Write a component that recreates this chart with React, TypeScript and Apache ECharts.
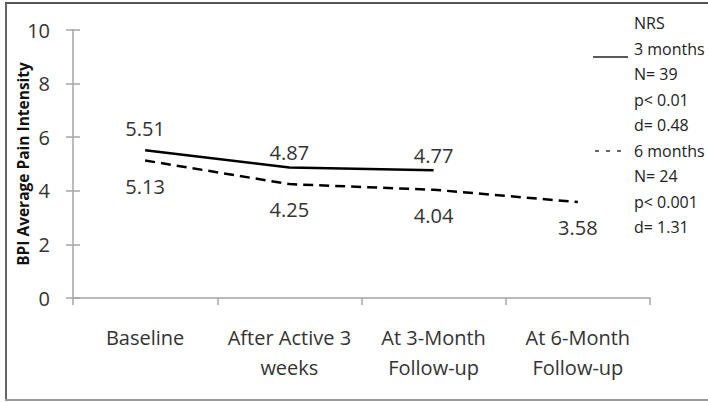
import React, { useEffect, useRef } from "react";
import * as echarts from "echarts";

const categories = ["Baseline", "After Active 3\nweeks", "At 3-Month\nFollow-up", "At 6-Month\nFollow-up"];
const threeMonths = [5.51, 4.87, 4.77, null];
const sixMonths = [5.13, 4.25, 4.04, 3.58];
const yTicks = { min: 0, max: 10, interval: 2 };
const yAxisName = "BPI Average Pain Intensity";
const legendLines = ["NRS", "3 months", "N= 39", "p< 0.01", "d= 0.48", "6 months", "N= 24", "p< 0.001", "d= 1.31"];

const FONT = "'Open Sans', Lato, sans-serif";

export default function App() {
  const ref = useRef<HTMLDivElement>(null);
  useEffect(() => {
    if (!ref.current) return;
    const chart = echarts.init(ref.current, undefined, { renderer: "svg" });
    const legendTexts: any[] = legendLines.map((t, i) => ({
      type: "text",
      x: 634,
      y: 23 + 25.5 * i,
      style: {
        text: t,
        font: `16px ${FONT}`,
        fill: "#222",
        verticalAlign: "middle",
      },
    }));
    chart.setOption({
      animation: false,
      textStyle: { fontFamily: FONT },
      grid: { left: 73, right: 58, top: 30, bottom: 104, containLabel: false, outerBoundsMode: "none" },
      xAxis: {
        type: "category",
        data: categories,
        boundaryGap: true,
        axisLine: { lineStyle: { color: "#a6a6a6", width: 1.5 } },
        axisTick: { show: true, length: 7, lineStyle: { color: "#a6a6a6", width: 1.5 } },
        axisLabel: { interval: 0, color: "#333", fontSize: 20, margin: 24, lineHeight: 30, fontFamily: FONT },
      },
      yAxis: [
        {
          type: "value",
          min: yTicks.min,
          max: yTicks.max,
          interval: yTicks.interval,
          position: "left",
          name: yAxisName,
          nameLocation: "middle",
          nameGap: 42,
          nameMoveOverlap: false,
          nameRotate: 90,
          nameTextStyle: { fontSize: 15.5, fontWeight: "bold", color: "#111", fontFamily: FONT },
          axisLine: { show: true, lineStyle: { color: "#a6a6a6", width: 1.5 } },
          axisTick: { show: true, length: 7, lineStyle: { color: "#a6a6a6", width: 1.5 } },
          axisLabel: { color: "#333", fontSize: 20, margin: 23, fontFamily: FONT },
          splitLine: { show: false },
        },
        {
          type: "value",
          min: yTicks.min,
          max: yTicks.max,
          interval: yTicks.interval,
          position: "left",
          offset: 0,
          axisLine: { show: false },
          axisTick: { show: true, inside: true, length: 7, lineStyle: { color: "#a6a6a6", width: 1.5 } },
          axisLabel: { show: false },
          splitLine: { show: false },
        },
      ],
      series: [
        {
          name: "3 months",
          type: "line",
          yAxisIndex: 0,
          data: threeMonths.map((v, i) => ({
            value: v,
            label: { distance: i === 0 ? 11 : 4 },
          })),
          symbol: "circle",
          symbolSize: 1,
          showSymbol: true,
          itemStyle: { color: "rgba(0,0,0,0)" },
          connectNulls: false,
          lineStyle: { color: "#000", width: 2.5, type: "solid" },
          label: {
            show: true,
            position: "top",
            fontSize: 20,
            color: "#333",
            fontFamily: FONT,
            formatter: (p: any) => (p.value == null ? "" : Number(p.value).toFixed(2)),
          },
        },
        {
          name: "6 months",
          type: "line",
          yAxisIndex: 0,
          data: sixMonths,
          symbol: "circle",
          symbolSize: 1,
          showSymbol: true,
          itemStyle: { color: "rgba(0,0,0,0)" },
          lineStyle: { color: "#000", width: 2.5, type: [10, 6] },
          label: {
            show: true,
            position: "bottom",
            distance: 15,
            fontSize: 20,
            color: "#333",
            fontFamily: FONT,
            formatter: (p: any) => Number(p.value).toFixed(2),
          },
        },
      ],
      graphic: [
        { type: "line", shape: { x1: 5, y1: 3, x2: 708, y2: 3 }, style: { stroke: "#555", lineWidth: 2 } },
        { type: "line", shape: { x1: 6, y1: 3, x2: 6, y2: 401 }, style: { stroke: "#666", lineWidth: 2 } },
        { type: "line", shape: { x1: 5, y1: 400, x2: 708, y2: 400 }, style: { stroke: "#999", lineWidth: 2 } },
        { type: "line", shape: { x1: 593, y1: 57, x2: 628, y2: 57 }, style: { stroke: "#222", lineWidth: 1.5 } },
        { type: "line", shape: { x1: 595, y1: 151, x2: 626, y2: 151 }, style: { stroke: "#333", lineWidth: 1.5, lineDash: [4, 7] } },
        ...legendTexts,
      ],
    });
    return () => chart.dispose();
  }, []);
  return (
    <div
      ref={ref}
      style={{ position: "fixed", left: 0, top: 0, width: 708, height: 402, background: "#fff" }}
    />
  );
}
